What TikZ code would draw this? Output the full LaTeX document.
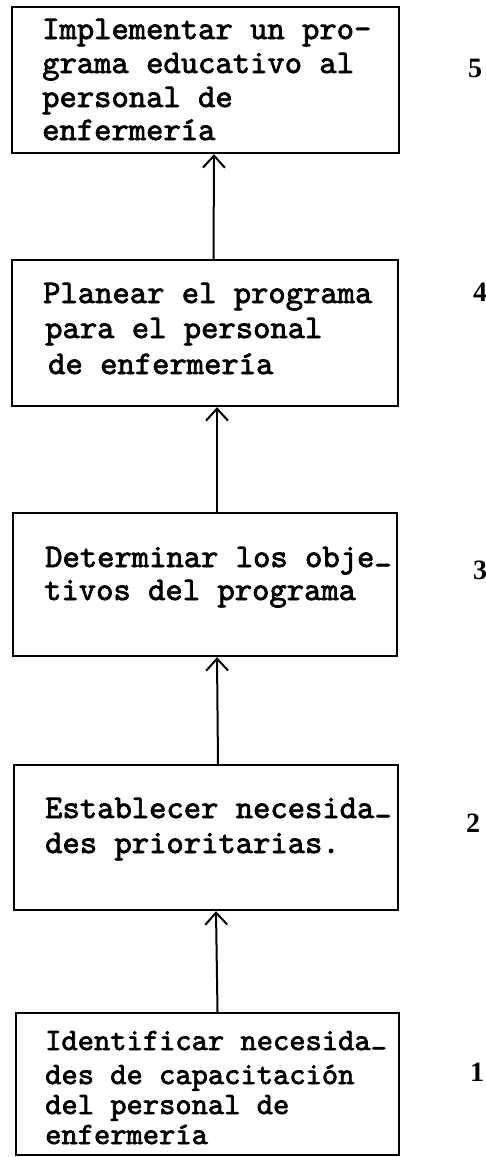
\documentclass[tikz,border=0pt]{standalone}
\usepackage{fontspec}
\setmainfont{Liberation Serif}
\newfontfamily\tw{lmmono10-regular.otf}[FakeBold=2.2]
\usetikzlibrary{arrows.meta}
\tikzset{
  stepbox/.style={draw, line width=2.4pt, rectangle, inner sep=0pt},
  ln/.style={anchor=base west, inner sep=0pt, font=\tw\fontsize{33}{33}\selectfont},
  lnsmall/.style={ln, font=\tw\fontsize{31}{31}\selectfont},
  num/.style={inner sep=0pt, font=\fontsize{28}{28}\selectfont\bfseries},
  arr/.style={line width=2pt, -{Straight Barb[length=12pt,width=22pt,line width=2pt]}},
}
\newcommand\hy{\raisebox{-0.25em}{-}}
\begin{document}
\begin{tikzpicture}[x=1pt,y=-1pt]
\useasboundingbox (0,0) rectangle (486,1157);
% boxes
\node[stepbox, minimum width=387pt, minimum height=146pt] (b5) at (205.5,80) {};
\node[stepbox, minimum width=386pt, minimum height=146pt] (b4) at (205,333) {};
\node[stepbox, minimum width=384pt, minimum height=143pt] (b3) at (205,584.5) {};
\node[stepbox, minimum width=384pt, minimum height=145pt] (b2) at (206,837.5) {};
\node[stepbox, minimum width=383pt, minimum height=142pt] (b1) at (207.5,1084) {};
% texts
\node[ln] (t51) at (42,39) {Implementar un pro-};
\node[ln] (t52) at (42,73) {grama educativo al};
\node[ln] (t53) at (42,107) {personal de};
\node[ln] (t54) at (42,140) {enfermería};
\node[ln] (t41) at (43,303) {Planear el programa};
\node[ln] (t42) at (45,338) {para el personal};
\node[ln] (t43) at (48,374) {de enfermería};
\node[ln] (t31) at (45,567) {Determinar los obje\hy};
\node[ln] (t32) at (44,600) {tivos del programa};
\node[ln] (t21) at (45,818) {Establecer necesida\hy};
\node[ln] (t22) at (45,853) {des prioritarias.};
\node[lnsmall] (t11) at (45,1050) {Identificar necesida\hy};
\node[lnsmall] (t12) at (45,1084) {des de capacitación};
\node[lnsmall] (t13) at (45,1114) {del personal de};
\node[lnsmall] (t14) at (45,1144) {enfermería};
% numbers
\node[num] (n5) at (475,68) {5};
\node[num] (n4) at (480,292) {4};
\node[num] (n3) at (480,570) {3};
\node[num] (n2) at (473,823) {2};
\node[num] (n1) at (477,1072) {1};
% connectors
\draw[arr] ([xshift=8.5pt]b4.north) -- ([xshift=8.5pt]b5.south);
\draw[arr] ([xshift=12pt]b3.north) -- ([xshift=12pt]b4.south);
\draw[arr] ([xshift=12pt]b2.north) -- ([xshift=12pt]b3.south);
\draw[arr] ([xshift=10pt]b1.north) -- ([xshift=10pt]b2.south);
\end{tikzpicture}
\end{document}
